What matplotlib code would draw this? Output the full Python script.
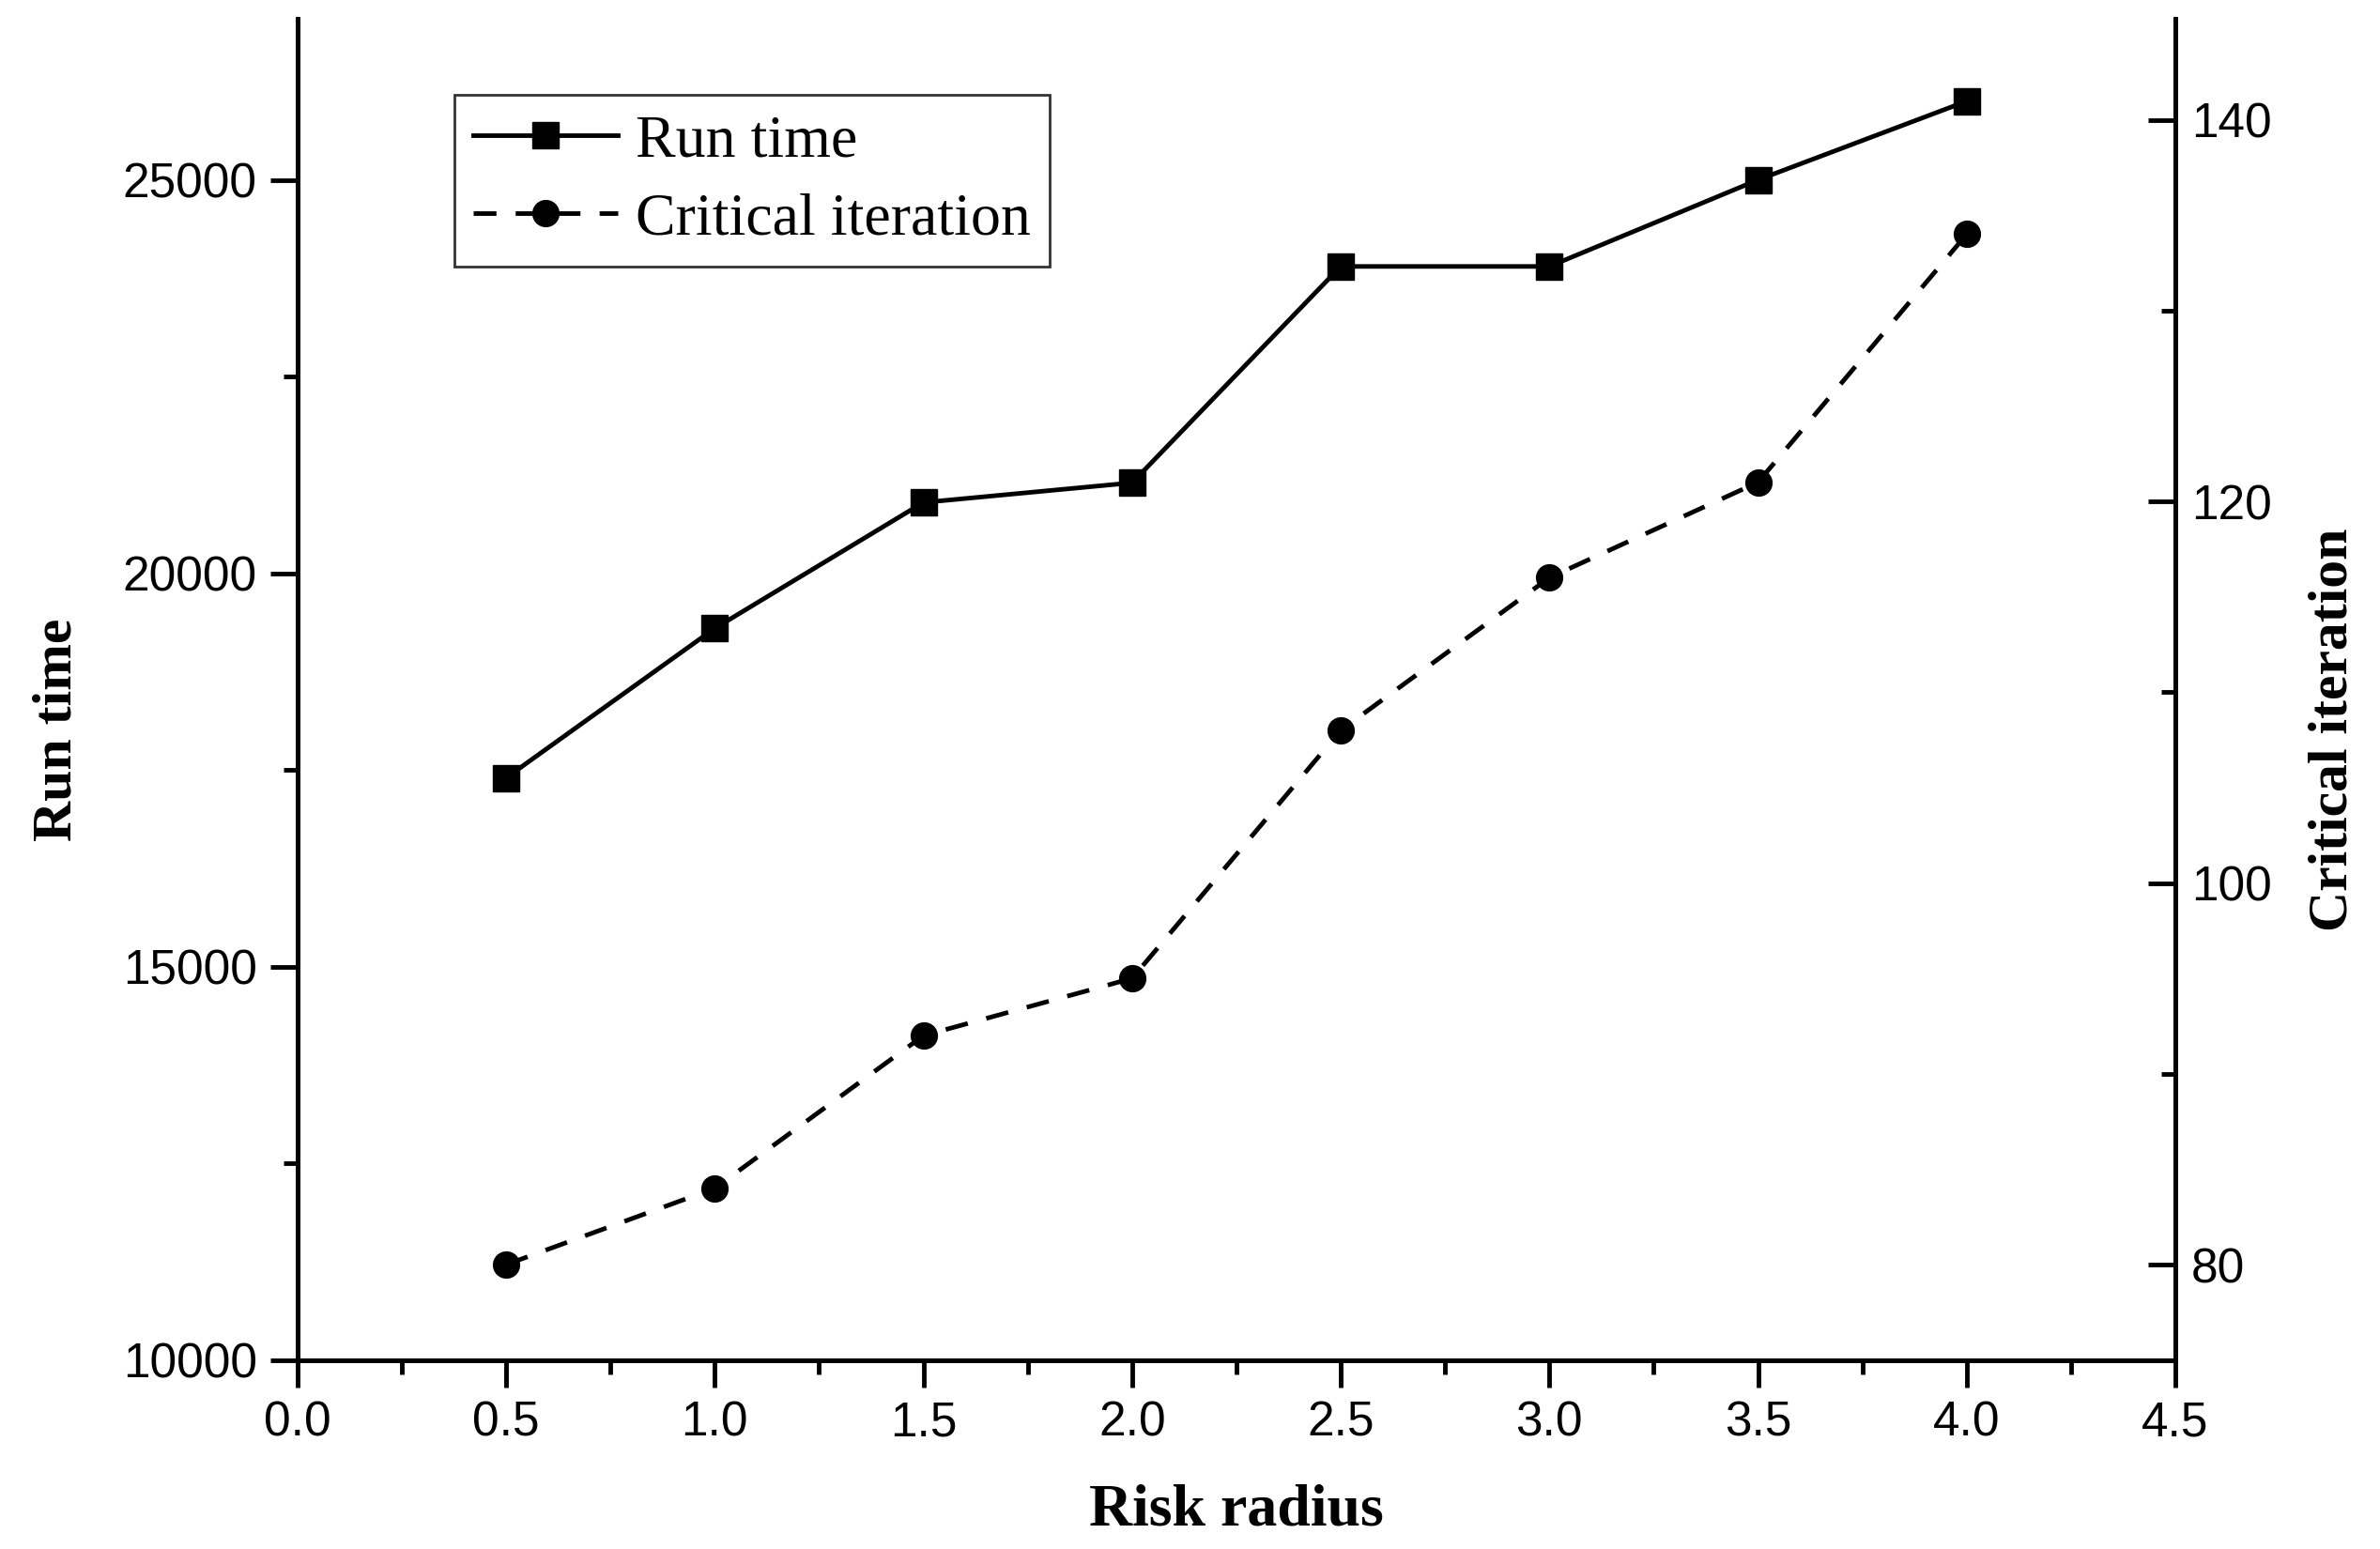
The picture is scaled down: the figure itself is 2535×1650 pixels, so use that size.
import matplotlib
matplotlib.use('Agg')
import matplotlib.pyplot as plt
from matplotlib.ticker import MultipleLocator, FormatStrFormatter

# values
risk_radius = [0.5, 1.0, 1.5, 2.0, 2.5, 3.0, 3.5, 4.0]
run_time = [17400, 19300, 20900, 21150, 23900, 23900, 25000, 26000]
critical_iteration = [80, 84, 92, 95, 108, 116, 121, 134]

tick_font = 'Liberation Sans'
label_font = 'Liberation Serif'

fig = plt.figure(figsize=(25.35, 16.5), dpi=100)
ax = fig.add_axes([0.125, 0.122, 0.789, 0.866])
ax2 = ax.twinx()

l1, = ax.plot(risk_radius, run_time, color='black', lw=3.5, marker='s', ms=20,
              label='Run time')
l2, = ax2.plot(risk_radius, critical_iteration, color='black', lw=3.5, ls=(0, (5, 4.2)),
               marker='o', ms=20, label='Critical iteration')

ax.set_xlim(0, 4.5)
ax.set_ylim(10000, 27050)
ax2.set_ylim(75, 145.3)

ax.xaxis.set_major_locator(MultipleLocator(0.5))
ax.xaxis.set_minor_locator(MultipleLocator(0.25))
ax.yaxis.set_major_locator(MultipleLocator(5000))
ax.yaxis.set_minor_locator(MultipleLocator(2500))
ax2.yaxis.set_major_locator(MultipleLocator(20))
ax2.yaxis.set_minor_locator(MultipleLocator(10))
ax.xaxis.set_major_formatter(FormatStrFormatter('%.1f'))

for a in (ax, ax2):
  for s in a.spines.values():
    s.set_linewidth(3.5)
  a.spines['top'].set_visible(False)

ax.tick_params(axis='both', which='major', direction='out', length=21, width=3.5,
               labelsize=37, pad=10)
ax.tick_params(axis='both', which='minor', direction='out', length=11, width=3.5)
ax2.tick_params(axis='y', which='major', direction='in', length=21, width=3.5,
                labelsize=37, pad=12)
ax2.tick_params(axis='y', which='minor', direction='in', length=11, width=3.5)

for lab in ax.get_xticklabels() + ax.get_yticklabels() + ax2.get_yticklabels():
  lab.set_fontfamily(tick_font)

ax.set_xlabel('Risk radius', fontfamily=label_font, fontweight='bold', fontsize=46)
ax.set_ylabel('Run time', fontfamily=label_font, fontweight='bold', fontsize=43)
ax2.set_ylabel('Critical iteration', fontfamily=label_font, fontweight='bold', fontsize=43)
ax.xaxis.set_label_coords(0.5, -0.092)
ax.yaxis.set_label_coords(-0.114, 0.47)
ax2.yaxis.set_label_coords(1.071, 0.47)

leg = ax.legend(handles=[l1, l2], loc='upper left', bbox_to_anchor=(0.0835, 0.943),
                prop={'family': label_font, 'size': 46}, frameon=True, fancybox=False,
                edgecolor='black', handlelength=2.4, handletextpad=0.3,
                borderpad=0.32, labelspacing=0.38, borderaxespad=0)
leg.get_frame().set_linewidth(2)

fig.savefig('out.png', dpi=100)
